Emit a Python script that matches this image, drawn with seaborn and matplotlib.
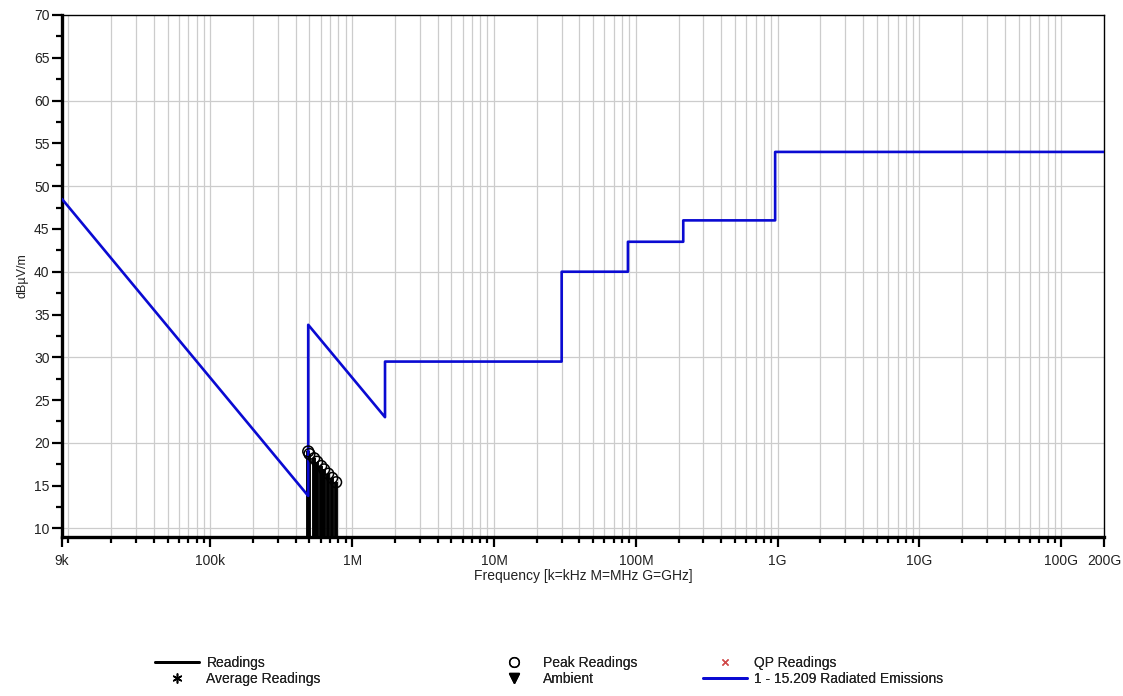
import numpy as np
import pandas as pd
import matplotlib
matplotlib.use('Agg')
import matplotlib.pyplot as plt
import seaborn as sns
from matplotlib.lines import Line2D
from matplotlib.ticker import FixedLocator, NullFormatter, FixedFormatter

# ---------------- data ----------------
limit_freq_hz = [9e3, 490e3, 490e3, 1.705e6, 1.705e6, 30e6, 30e6, 88e6, 88e6,
                 216e6, 216e6, 960e6, 960e6, 200e9]
limit_dbuv = [48.5, 13.8, 33.8, 23.0, 29.5, 29.5, 40.0, 40.0, 43.5,
              43.5, 46.0, 46.0, 54.0, 54.0]

reading_freq_hz = [0.49e6, 0.50e6, 0.54e6, 0.567e6, 0.605e6, 0.635e6,
                   0.678e6, 0.723e6, 0.771e6]
reading_dbuv = [19.0, 18.7, 18.2, 17.8, 17.3, 16.9, 16.4, 15.9, 15.4]

x_tick_values = [9e3, 1e5, 1e6, 1e7, 1e8, 1e9, 1e10, 1e11, 2e11]
x_tick_labels = ['9k', '100k', '1M', '10M', '100M', '1G', '10G', '100G', '200G']
y_tick_values = list(range(10, 71, 5))
y_grid_values = list(range(10, 70, 10))

limit_label = '1 - 15.209 Radiated Emissions'

# ---------------- style ----------------
sns.set_theme(style='white')
plt.rcParams['font.family'] = ['Liberation Sans', 'DejaVu Sans']
text_color = '#222222'
blue = '#0a0ad2'

fig = plt.figure(figsize=(11.23, 6.96), dpi=100)
W, H = 1123, 696
ax = fig.add_axes([62 / W, 1 - 537 / H, (1104 - 62) / W, (537 - 15) / H])
ax.set_xscale('log')
ax.set_xlim(9e3, 2e11)
ax.set_ylim(9, 70)

# grid
minor_x = [k * 10.0 ** d for d in range(4, 12) for k in range(1, 10)
           if 9e3 < k * 10.0 ** d < 2e11 and k * 10.0 ** d not in x_tick_values]
for xv in minor_x + x_tick_values[1:-1]:
    ax.axvline(xv, color='#cccccc', lw=0.9, zorder=0)
for yv in y_grid_values:
    ax.axhline(yv, color='#cccccc', lw=0.9, zorder=0)

limit_df = pd.DataFrame({'freq': limit_freq_hz, 'level': limit_dbuv})
sns.lineplot(data=limit_df, x='freq', y='level', sort=False, estimator=None,
             color=blue, lw=1.9, ax=ax, zorder=4)

read_df = pd.DataFrame({'freq': reading_freq_hz, 'level': reading_dbuv})
ax.vlines(read_df['freq'], 9, read_df['level'], color='black', lw=2.8, zorder=3)
sns.scatterplot(data=read_df, x='freq', y='level', marker='o', s=60,
                facecolor='none', edgecolor='black', linewidth=1.1, ax=ax, zorder=5)

# axes styling
ax.xaxis.set_major_locator(FixedLocator(x_tick_values))
ax.xaxis.set_major_formatter(FixedFormatter(x_tick_labels))
ax.xaxis.set_minor_locator(FixedLocator(minor_x))
ax.xaxis.set_minor_formatter(NullFormatter())
ax.yaxis.set_major_locator(FixedLocator(y_tick_values))
ax.yaxis.set_minor_locator(FixedLocator([v + 2.5 for v in y_tick_values[:-1]]))

ax.tick_params(axis='both', which='major', direction='out', length=7, width=1.6,
               colors='black', labelcolor=text_color, labelsize=10, pad=2)
ax.tick_params(axis='both', which='minor', direction='out', length=4, width=1.6,
               colors='black')
ax.tick_params(axis='x', which='major', pad=5)
ax.tick_params(left=True, bottom=True, which='both')

for side in ['left', 'bottom']:
    ax.spines[side].set_linewidth(2.4)
    ax.spines[side].set_color('black')
for side in ['top', 'right']:
    ax.spines[side].set_linewidth(1.0)
    ax.spines[side].set_color('black')

ax.set_xlabel('Frequency [k=kHz M=MHz G=GHz]', fontsize=10, color=text_color, labelpad=1)
ax.set_ylabel('dBµV/m', fontsize=9, color=text_color, labelpad=4)

# legends (three columns)
fs = 10
col1 = [Line2D([], [], color='black', lw=2),
        Line2D([], [], color='black', lw=0, marker=(6, 2, 0), markersize=7)]
col2 = [Line2D([], [], color='black', lw=0, marker='o', markersize=7,
               markerfacecolor='none', markeredgewidth=1),
        Line2D([], [], color='black', lw=0, marker='v', markersize=7)]
col3 = [Line2D([], [], color='#d04a4a', lw=0, marker='x', markersize=5),
        Line2D([], [], color=blue, lw=2)]
labels = [['Readings', 'Average Readings'],
          ['Peak Readings', 'Ambient'],
          ['QP Readings', limit_label]]
starts = [155, 492, 703]
for handles, labs, x0 in zip([col1, col2, col3], labels, starts):
    leg = fig.legend(handles, labs, loc='center left',
                     bbox_to_anchor=(x0 / W, 1 - 671 / H), frameon=False,
                     fontsize=fs, handlelength=3.2, handletextpad=0.5,
                     labelspacing=0.15, borderpad=0, borderaxespad=0)
    for t in leg.get_texts():
        t.set_color(text_color)
    fig.add_artist(leg)

fig.savefig('out.png', dpi=100, facecolor='white')
